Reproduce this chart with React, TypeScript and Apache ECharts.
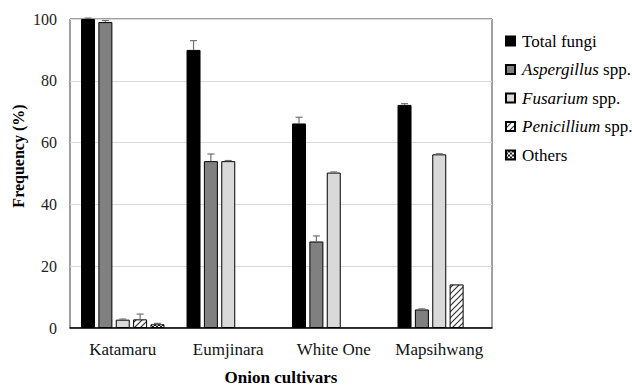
import React, { useEffect, useRef } from "react";
import * as echarts from "echarts";

const categories = ["Katamaru", "Eumjinara", "White One", "Mapsihwang"];
const seriesNames = ["Total fungi", "Aspergillus spp.", "Fusarium spp.", "Penicillium spp.", "Others"];
const totalFungi = [100, 90, 66.2, 72.2];
const totalErr = [0.3, 3, 2, 0.4];
const aspergillus = [99, 54, 28, 6];
const aspergillusErr = [0.5, 2.3, 1.8, 0.2];
const fusarium = [2.7, 54, 50.3, 56.2];
const fusariumErr = [0.2, 0.2, 0.2, 0.2];
const penicillium = [2.8, 0, 0, 14.1];
const penicilliumErr = [1.7, 0, 0, 0];
const others = [1.2, 0, 0, 0];
const othersErr = [0.3, 0, 0, 0];
const yTicks = [0, 20, 40, 60, 80, 100];

const FONT = "Liberation Serif";
const BAR_W = 14;
const GAP_RATIO = 0.24;

function hatchCanvas() {
  const c = document.createElement("canvas");
  c.width = 6;
  c.height = 6;
  const ctx = c.getContext("2d")!;
  ctx.fillStyle = "#fff";
  ctx.fillRect(0, 0, 6, 6);
  ctx.strokeStyle = "#333";
  ctx.lineWidth = 1.2;
  ctx.beginPath();
  ctx.moveTo(0, 6);
  ctx.lineTo(6, 0);
  ctx.moveTo(-3, 3);
  ctx.lineTo(3, -3);
  ctx.moveTo(3, 9);
  ctx.lineTo(9, 3);
  ctx.stroke();
  return c;
}

function checkCanvas() {
  const c = document.createElement("canvas");
  c.width = 4;
  c.height = 4;
  const ctx = c.getContext("2d")!;
  ctx.fillStyle = "#222";
  ctx.fillRect(0, 0, 4, 4);
  ctx.fillStyle = "#fff";
  ctx.fillRect(0, 0, 2, 2);
  ctx.fillRect(2, 2, 2, 2);
  return c;
}

export default function App() {
  const ref = useRef<HTMLDivElement>(null);
  useEffect(() => {
    document.body.style.margin = "0";
    const chart = echarts.init(ref.current!, null, { renderer: "svg" });
    const values = [totalFungi, aspergillus, fusarium, penicillium, others];
    const errs = [totalErr, aspergillusErr, fusariumErr, penicilliumErr, othersErr];
    const fills: any[] = [
      "#000000",
      "#808080",
      "#d9d9d9",
      { image: hatchCanvas(), repeat: "repeat" },
      { image: checkCanvas(), repeat: "repeat" },
    ];
    const barSeries = values.map((v, i) => ({
      name: seriesNames[i],
      type: "bar",
      data: v.map((x) => (x === 0 ? "-" : x)),
      barWidth: BAR_W,
      barGap: GAP_RATIO * 100 + "%",
      itemStyle: {
        color: fills[i],
        borderColor: "#000",
        borderWidth: 1,
      },
    }));
    const errSeries = errs.map((e, i) => ({
      name: "err" + i,
      type: "custom",
      z: 5,
      data: e.map((err, c) => [c, values[i][c], err]),
      encode: { x: 0, y: 1 },
      renderItem: (params: any, api: any) => {
        const c = api.value(0);
        const val = api.value(1);
        const err = api.value(2);
        if (!(err > 0) || !(val > 0)) return null;
        const gap = BAR_W * GAP_RATIO;
        const total = 5 * BAR_W + 4 * gap;
        const offset = -total / 2 + i * (BAR_W + gap) + BAR_W / 2;
        const base = api.coord([c, val]);
        const top = api.coord([c, val + err]);
        const x = base[0] + offset;
        const style = { stroke: "#707070", lineWidth: 1.2, fill: "none" };
        return {
          type: "group",
          children: [
            { type: "line", shape: { x1: x, y1: base[1], x2: x, y2: top[1] }, style },
            { type: "line", shape: { x1: x - 3.5, y1: top[1], x2: x + 3.5, y2: top[1] }, style },
          ],
        };
      },
    }));
    chart.setOption({
      animation: false,
      grid: {
        left: 70,
        right: 140,
        top: 19,
        bottom: 59,
        show: true,
        borderColor: "#404040",
        borderWidth: 1,
        containLabel: false,
        outerBoundsMode: "none",
      },
      legend: {
        orient: "vertical",
        left: 505,
        top: 32,
        padding: 0,
        itemWidth: 9,
        itemHeight: 9,
        itemGap: 10.5,
        data: seriesNames,
        icon: "rect",
        textStyle: {
          fontFamily: FONT,
          fontSize: 17,
          color: "#000",
          lineHeight: 18,
          padding: [0, 0, 0, 2],
          rich: { i: { fontFamily: FONT, fontSize: 17, fontStyle: "italic", color: "#000", lineHeight: 18 } },
        },
        formatter: (name: string) => {
          if (name.endsWith(" spp.")) {
            return "{i|" + name.replace(" spp.", "") + "} spp.";
          }
          return name;
        },
      },
      xAxis: {
        type: "category",
        data: categories,
        name: "Onion cultivars",
        nameLocation: "middle",
        nameGap: 41,
        nameTextStyle: { fontFamily: FONT, fontSize: 17, fontWeight: "bold", color: "#000" },
        axisLine: { lineStyle: { color: "#000", width: 1.5 } },
        axisTick: { show: false },
        axisLabel: { fontFamily: FONT, fontSize: 17, color: "#111", margin: 13, interval: 0 },
      },
      yAxis: {
        type: "value",
        min: yTicks[0],
        max: yTicks[yTicks.length - 1],
        interval: 20,
        axisLine: { show: false },
        axisTick: { show: false },
        axisLabel: { fontFamily: FONT, fontSize: 16, color: "#222", margin: 13 },
        splitLine: { lineStyle: { color: "#d9d9d9", width: 1 } },
      },
      graphic: [
        {
          type: "text",
          x: 18,
          y: 156,
          rotation: Math.PI / 2,
          style: {
            text: "Frequency (%)",
            fontFamily: FONT,
            fontSize: 16,
            fontWeight: "bold",
            fill: "#000",
            align: "center",
            verticalAlign: "middle",
          },
        },
      ],
      series: [...barSeries, ...errSeries],
    });
    return () => chart.dispose();
  }, []);
  return <div ref={ref} style={{ width: 632, height: 387 }} />;
}
